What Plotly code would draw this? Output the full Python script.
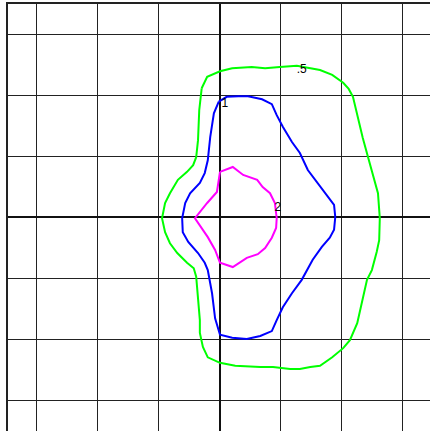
import plotly.graph_objects as go

green_x = [-0.30, -0.21, 0.00, 0.20, 0.52, 0.74, 0.98, 1.26, 1.64, 1.84, 2.02, 2.11, 2.18, 2.25, 2.34, 2.43, 2.51, 2.59, 2.62, 2.61, 2.57, 2.49, 2.41, 2.33, 2.25, 2.13, 2.02, 1.84, 1.64, 1.48, 1.31, 1.15, 0.87, 0.66, 0.25, 0.00, -0.20, -0.28, -0.33, -0.33, -0.36, -0.39, -0.43, -0.54, -0.70, -0.82, -0.90, -0.95, -0.90, -0.82, -0.69, -0.54, -0.44, -0.39, -0.36, -0.34, -0.30]
green_y = [2.11, 2.30, 2.39, 2.44, 2.46, 2.44, 2.46, 2.48, 2.41, 2.33, 2.20, 2.10, 1.97, 1.67, 1.30, 0.97, 0.66, 0.39, -0.02, -0.38, -0.57, -0.87, -1.03, -1.36, -1.74, -2.02, -2.15, -2.30, -2.44, -2.46, -2.49, -2.49, -2.46, -2.46, -2.44, -2.39, -2.30, -2.13, -1.90, -1.69, -1.25, -0.98, -0.84, -0.75, -0.59, -0.43, -0.25, -0.02, 0.23, 0.39, 0.61, 0.74, 0.85, 0.98, 1.26, 1.75, 2.11]

blue_x = [-0.02, 0.11, 0.30, 0.46, 0.69, 0.85, 0.93, 1.03, 1.18, 1.31, 1.44, 1.56, 1.67, 1.80, 1.87, 1.89, 1.87, 1.80, 1.67, 1.52, 1.34, 1.18, 1.03, 0.93, 0.85, 0.66, 0.44, 0.20, 0.00, -0.08, -0.13, -0.20, -0.25, -0.36, -0.52, -0.61, -0.62, -0.57, -0.49, -0.33, -0.25, -0.20, -0.16, -0.10, -0.02]
blue_y = [1.89, 1.97, 1.98, 1.98, 1.93, 1.85, 1.67, 1.48, 1.23, 1.05, 0.77, 0.61, 0.48, 0.31, 0.20, 0.00, -0.21, -0.34, -0.49, -0.70, -1.03, -1.25, -1.48, -1.69, -1.87, -1.95, -2.00, -1.98, -1.93, -1.66, -1.25, -0.87, -0.75, -0.59, -0.41, -0.25, -0.02, 0.23, 0.39, 0.56, 0.72, 0.93, 1.31, 1.70, 1.89]

magenta_x = [0.00, 0.21, 0.38, 0.61, 0.70, 0.82, 0.90, 0.93, 0.92, 0.85, 0.74, 0.62, 0.44, 0.21, 0.00, -0.08, -0.20, -0.41, -0.21, -0.05, 0.00]
magenta_y = [0.74, 0.82, 0.69, 0.61, 0.49, 0.39, 0.23, -0.02, -0.18, -0.34, -0.51, -0.61, -0.67, -0.82, -0.75, -0.54, -0.33, -0.02, 0.23, 0.41, 0.74]

label_text = [".5", "1", "2"]
label_x = [1.34, 0.08, 0.95]
label_y = [2.41, 1.85, 0.15]

fig = go.Figure()
for xs, ys, col in [(green_x, green_y, "#00ff00"), (blue_x, blue_y, "#0000ff"), (magenta_x, magenta_y, "#ff00ff")]:
    fig.add_trace(go.Scatter(x=xs, y=ys, mode="lines", line=dict(color=col, width=2), hoverinfo="skip"))

fig.add_trace(go.Scatter(x=label_x, y=label_y, mode="text", text=label_text,
                         textfont=dict(family="Liberation Sans", size=12, color="#000"), hoverinfo="skip"))

fig.update_layout(
    width=430, height=431,
    margin=dict(l=8, r=0, t=4, b=0, pad=0),
    paper_bgcolor="white", plot_bgcolor="white",
    showlegend=False,
)
fig.update_xaxes(range=[-3.475, 3.443], dtick=1, tick0=0, showticklabels=False, ticks="",
                 showgrid=True, gridcolor="#222", gridwidth=1,
                 zeroline=True, zerolinecolor="#111", zerolinewidth=2,
                 showline=True, linecolor="#222", linewidth=2, side="top", mirror=False)
fig.update_yaxes(range=[-3.508, 3.492], dtick=1, tick0=0, showticklabels=False, ticks="",
                 showgrid=True, gridcolor="#222", gridwidth=1,
                 zeroline=True, zerolinecolor="#111", zerolinewidth=2,
                 showline=True, linecolor="#222", linewidth=2, mirror=False)

fig.write_html("out.html", config={"displayModeBar": False},
               post_script="document.body.style.margin='0';document.body.style.overflow='hidden';")
